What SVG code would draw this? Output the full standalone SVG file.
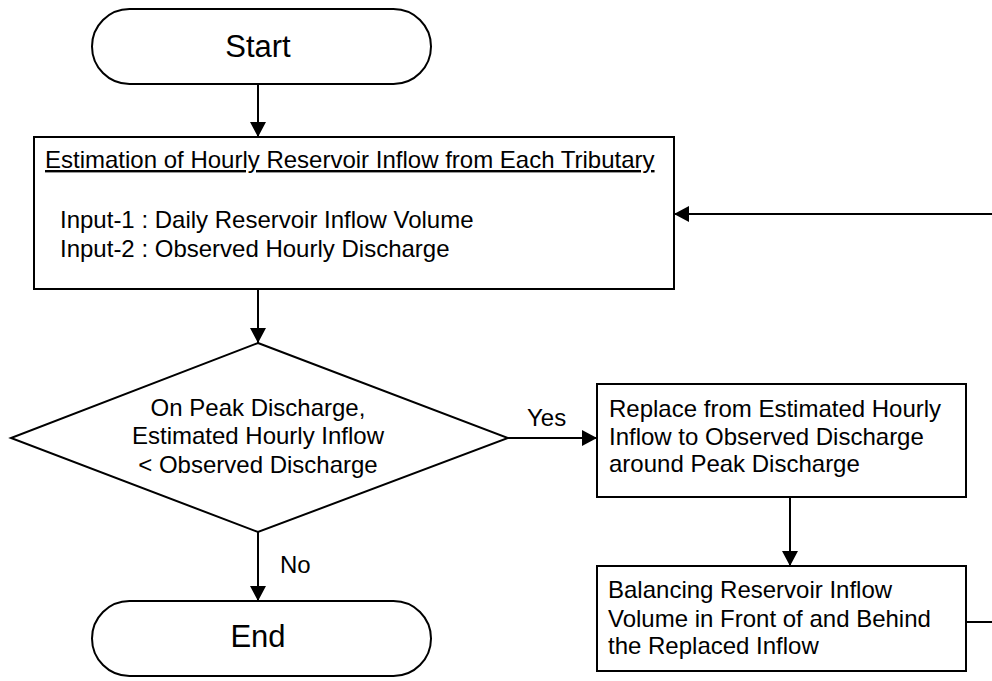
<svg xmlns="http://www.w3.org/2000/svg" width="992" height="681" viewBox="0 0 992 681">
<style>
.s{fill:#fff;stroke:#000;stroke-width:2}
.t{font-family:"Liberation Sans",Arial,sans-serif;font-size:24px;fill:#000}
.big{font-family:"Liberation Sans",Arial,sans-serif;font-size:31px;fill:#000}
.c{stroke:#000;stroke-width:2;fill:none}
</style>
<defs>
<marker id="ahb" markerWidth="15" markerHeight="16" refX="15" refY="8" orient="auto" markerUnits="userSpaceOnUse" viewBox="0 0 15 16">
<path d="M0,0 L15,8 L0,16 Z" fill="#000"/>
</marker>
</defs>
<g id="start">
<rect class="s" x="92" y="9" width="339" height="75" rx="37.5" ry="37.5"/>
<text class="big" x="258" y="57" text-anchor="middle">Start</text>
</g>
<g id="estimate">
<rect class="s" x="34" y="137" width="640" height="152"/>
<text class="t" x="45" y="168" text-decoration="underline">Estimation of Hourly Reservoir Inflow from Each Tributary</text>
<text class="t" x="60" y="228">Input-1 : Daily Reservoir Inflow Volume</text>
<text class="t" x="60" y="257">Input-2 : Observed Hourly Discharge</text>
</g>
<g id="decision">
<polygon class="s" points="258,343 508,438 258,532 11,438"/>
<text class="t" x="258" y="416" text-anchor="middle">On Peak Discharge,</text>
<text class="t" x="258" y="444" text-anchor="middle">Estimated Hourly Inflow</text>
<text class="t" x="258" y="473" text-anchor="middle">&lt; Observed Discharge</text>
</g>
<g id="replace">
<rect class="s" x="597" y="384" width="369" height="113"/>
<text class="t" x="609" y="417">Replace from Estimated Hourly</text>
<text class="t" x="609" y="445">Inflow to Observed Discharge</text>
<text class="t" x="609" y="472">around Peak Discharge</text>
</g>
<g id="balance">
<rect class="s" x="597" y="566" width="369" height="105"/>
<text class="t" x="608" y="598">Balancing Reservoir Inflow</text>
<text class="t" x="608" y="627">Volume in Front of and Behind</text>
<text class="t" x="608" y="654">the Replaced Inflow</text>
</g>
<g id="end">
<rect class="s" x="92" y="601" width="339" height="75" rx="37.5" ry="37.5"/>
<text class="big" x="258" y="647" text-anchor="middle">End</text>
</g>
<g id="connectors">
<line class="c" x1="258" y1="84" x2="258" y2="137" marker-end="url(#ahb)"/>
<line class="c" x1="258" y1="289" x2="258" y2="343" marker-end="url(#ahb)"/>
<line class="c" x1="508" y1="438" x2="597" y2="438" marker-end="url(#ahb)"/>
<line class="c" x1="258" y1="532" x2="258" y2="601" marker-end="url(#ahb)"/>
<line class="c" x1="790" y1="497" x2="790" y2="566" marker-end="url(#ahb)"/>
<line class="c" x1="966" y1="622" x2="992" y2="622"/>
<line class="c" x1="992" y1="214" x2="674" y2="214" marker-end="url(#ahb)"/>
<text class="t" x="527" y="426">Yes</text>
<text class="t" x="280" y="573">No</text>
</g>
</svg>
